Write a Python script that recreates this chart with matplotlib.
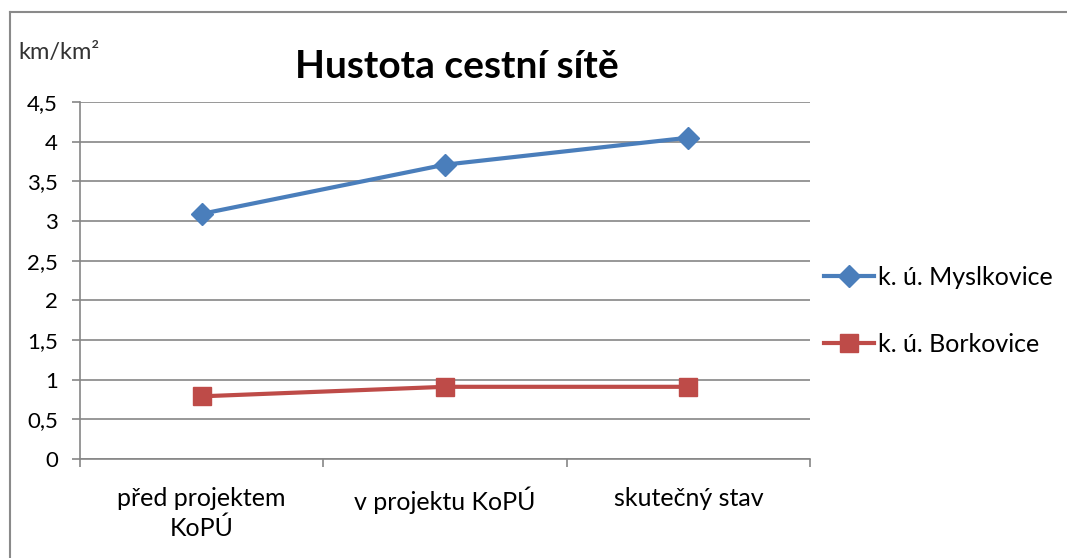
import matplotlib
matplotlib.use("Agg")
import matplotlib.pyplot as plt
from matplotlib.lines import Line2D
import numpy as np

plt.rcParams['font.family'] = ['Lato', 'DejaVu Sans']

categories = ["před projektem\nKoPÚ", "v projektu KoPÚ", "skutečný stav"]
myslkovice = [3.09, 3.71, 4.05]
borkovice = [0.79, 0.91, 0.91]
yticks = [0, 0.5, 1, 1.5, 2, 2.5, 3, 3.5, 4, 4.5]
ytick_labels = ["0", "0,5", "1", "1,5", "2", "2,5", "3", "3,5", "4", "4,5"]

W, H = 1067, 558
fig = plt.figure(figsize=(W/100, H/100), dpi=100)
ax = fig.add_axes([80/W, 1-459/H, (810-80)/W, (459-102)/H])

grid_c = '#868686'
x = np.arange(len(categories))
ax.plot(x, myslkovice, color='#4A7EBB', lw=3, marker='D', ms=11,
        markeredgecolor='#4A7EBB', label='k. ú. Myslkovice', zorder=3)
ax.plot(x, borkovice, color='#BE4B48', lw=3, marker='s', ms=13,
        markeredgecolor='#BE4B48', label='k. ú. Borkovice', zorder=3)

ax.set_xlim(-0.5, 2.5)
ax.set_ylim(0, 4.5)
ax.set_yticks(yticks)
ax.set_yticklabels(ytick_labels, fontsize=16)
ax.yaxis.grid(True, color=grid_c, lw=1.2)
ax.set_axisbelow(True)
ax.set_xticks(x)
ax.set_xticklabels(categories, fontsize=18, linespacing=1.35)
ax.set_xticks([-0.5, 0.5, 1.5, 2.5], minor=True)
ax.tick_params(axis='x', which='major', length=0, pad=20)
ax.tick_params(axis='x', which='minor', length=6, color=grid_c, width=1.2)
ax.tick_params(axis='y', length=6, color=grid_c, width=1.2, pad=10)
for s in ['top', 'right']:
    ax.spines[s].set_visible(False)
for s in ['left', 'bottom']:
    ax.spines[s].set_color(grid_c)
    ax.spines[s].set_linewidth(1.2)

fig.text(457/W, 1-67/H, "Hustota cestní sítě", fontsize=28, fontweight='bold',
         ha='center', va='center')
fig.text(18/W, 1-52/H, "km/km²", fontsize=17, ha='left', va='center', color='#333333')

handles, labels = ax.get_legend_handles_labels()
fig.legend(handles, labels, loc='center left', bbox_to_anchor=(814/W, 1-311/H),
           frameon=False, fontsize=18, handlelength=2.0, handletextpad=0.15,
           labelspacing=1.75, borderaxespad=0)

# outer chart border (top and left visible)
fig.add_artist(Line2D([9.5/W, 1066/W], [1-11.5/H, 1-11.5/H], color='#8a8a8a', lw=1.5))
fig.add_artist(Line2D([9.5/W, 9.5/W], [1-11.5/H, 0], color='#8a8a8a', lw=1.5))

fig.savefig("out.png", dpi=100)
